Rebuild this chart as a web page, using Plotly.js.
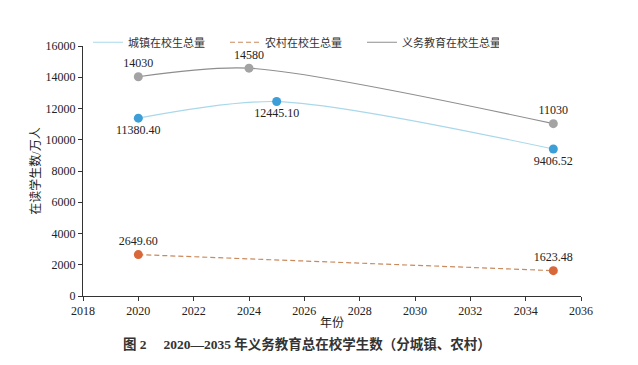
<!DOCTYPE html>
<html><head><meta charset="utf-8">
<script src="https://cdn.plot.ly/plotly-3.0.1.min.js"></script>
<style>html,body{margin:0;padding:0;background:#fff}#c{width:638px;height:365px}</style>
</head><body><div id="c"></div>
<script>
const seriesNames = ["城镇在校生总量", "农村在校生总量", "义务教育在校生总量"];
const urbanYears = [2020, 2025, 2035];
const urbanValues = [11380.40, 12445.10, 9406.52];
const urbanLabels = ["11380.40", "12445.10", "9406.52"];
const ruralYears = [2020, 2035];
const ruralValues = [2649.60, 1623.48];
const ruralLabels = ["2649.60", "1623.48"];
const totalYears = [2020, 2024, 2035];
const totalValues = [14030, 14580, 11030];
const totalLabels = ["14030", "14580", "11030"];
const xTicks = [2018, 2020, 2022, 2024, 2026, 2028, 2030, 2032, 2034, 2036];
const yTicks = [0, 2000, 4000, 6000, 8000, 10000, 12000, 14000, 16000];

const serif = '"Liberation Serif", "Times New Roman", "Noto Sans CJK SC", serif';
const cjk = '"Liberation Serif", "Noto Sans CJK SC", serif';

const traces = [
  {x: urbanYears, y: urbanValues, name: seriesNames[0], mode: 'lines', line: {color: '#a9d8ea', width: 1.2, shape: 'spline', smoothing: 0.8}},
  {x: ruralYears, y: ruralValues, name: seriesNames[1], mode: 'lines', line: {color: '#c98a5e', width: 1.2, dash: '5px,3px'}},
  {x: totalYears, y: totalValues, name: seriesNames[2], mode: 'lines', line: {color: '#8e8e8e', width: 1.2, shape: 'spline', smoothing: 0.8}},
  {x: urbanYears, y: urbanValues, mode: 'markers+text', showlegend: false, text: urbanLabels, textposition: 'bottom center',
   marker: {color: '#3d9fd8', size: 9}, textfont: {family: serif, size: 12, color: '#222'}},
  {x: ruralYears, y: ruralValues, mode: 'markers+text', showlegend: false, text: ruralLabels, textposition: 'top center',
   marker: {color: '#d8673a', size: 9}, textfont: {family: serif, size: 12, color: '#222'}},
  {x: totalYears, y: totalValues, mode: 'markers+text', showlegend: false, text: totalLabels, textposition: 'top center',
   marker: {color: '#a3a3a3', size: 9}, textfont: {family: serif, size: 12, color: '#222'}}
];

const layout = {
  width: 638, height: 365,
  margin: {l: 83, r: 57, t: 46, b: 69},
  paper_bgcolor: '#fff', plot_bgcolor: '#fff',
  font: {family: serif, size: 12, color: '#222'},
  showlegend: true,
  legend: {orientation: 'h', x: 0.01, xanchor: 'left', y: 1.015, yanchor: 'middle',
    font: {family: cjk, size: 11, color: '#333'}, bgcolor: 'rgba(255,255,255,0)', itemwidth: 30,
    entrywidth: 92, entrywidthmode: 'pixels'},
  xaxis: {range: [2018, 2036], tickvals: xTicks, ticktext: xTicks.map(String), showgrid: false, zeroline: false,
    showline: true, linecolor: '#333', linewidth: 1, ticks: 'outside', ticklen: 4, tickcolor: '#333',
    tickfont: {family: serif, size: 12},
    title: {text: '年份', font: {family: cjk, size: 12}, standoff: 1}},
  yaxis: {range: [0, 16000], tickvals: yTicks, ticktext: yTicks.map(String), showgrid: false, zeroline: false,
    showline: true, linecolor: '#333', linewidth: 1, ticks: 'outside', ticklen: 4, tickcolor: '#333',
    tickfont: {family: serif, size: 12},
    title: {text: '在读学生数/万人', font: {family: cjk, size: 12}, standoff: 2}},
  annotations: [
    {xref: 'paper', yref: 'paper', x: 0.45, y: -0.192, xanchor: 'center', yanchor: 'middle', showarrow: false,
     text: '<b>图 2　 2020—2035 年义务教育总在校学生数（分城镇、农村）</b>', font: {family: cjk, size: 13.5, color: '#333'}}
  ]
};
Plotly.newPlot('c', traces, layout, {displayModeBar: false, staticPlot: true});
</script></body></html>
